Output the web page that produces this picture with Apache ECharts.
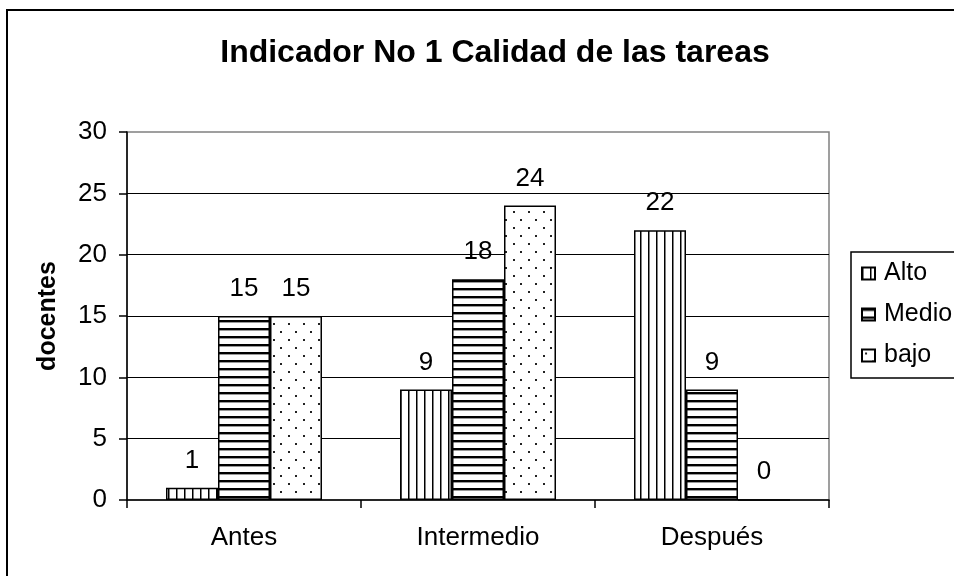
<!DOCTYPE html>
<html>
<head>
<meta charset="utf-8">
<script src="https://cdn.jsdelivr.net/npm/echarts@6/dist/echarts.min.js"></script>
<style>
html,body{margin:0;padding:0;background:#fff;}
#c{width:954px;height:576px;}
</style>
</head>
<body>
<div id="c"></div>
<script>
const categories = ['Antes', 'Intermedio', 'Después'];
const seriesNames = ['Alto', 'Medio', 'bajo'];
const alto = [1, 9, 22];
const medio = [15, 18, 9];
const bajo = [15, 24, 0];
const yTicks = [0, 5, 10, 15, 20, 25, 30];

const FONT = '"Liberation Sans", Arial, sans-serif';

function makePattern(kind) {
  const c = document.createElement('canvas');
  const ctx = c.getContext('2d');
  if (kind === 'v') {
    c.width = 8; c.height = 8;
    ctx.fillStyle = '#fff'; ctx.fillRect(0, 0, 8, 8);
    ctx.fillStyle = '#000'; ctx.fillRect(0, 0, 1.5, 8);
  } else if (kind === 'h') {
    c.width = 8; c.height = 8;
    ctx.fillStyle = '#fff'; ctx.fillRect(0, 0, 8, 8);
    ctx.fillStyle = '#000'; ctx.fillRect(0, 0, 8, 2);
    ctx.fillStyle = '#999'; ctx.fillRect(0, 2, 8, 1);
  } else {
    c.width = 15; c.height = 16;
    ctx.fillStyle = '#fff'; ctx.fillRect(0, 0, 15, 16);
    ctx.fillStyle = '#222';
    ctx.fillRect(3, 3, 2, 2);
    ctx.fillRect(10, 11, 2, 2);
  }
  return { image: c, repeat: 'repeat' };
}

const patterns = [makePattern('v'), makePattern('h'), makePattern('d')];
const dataSets = [alto, medio, bajo];

const chart = echarts.init(document.getElementById('c'), null, { renderer: 'canvas' });

const option = {
  backgroundColor: '#fff',
  animation: false,
  textStyle: { fontFamily: FONT },
  title: {
    text: 'Indicador No 1 Calidad de las tareas',
    left: 490,
    textAlign: 'center',
    top: 32,
    textStyle: { fontFamily: FONT, fontSize: 32, fontWeight: 'bold', color: '#000' }
  },
  graphic: [
    { type: 'rect', z: -10, shape: { x: 7, y: 10, width: 1000, height: 1000 },
      style: { fill: 'none', stroke: '#000', lineWidth: 2 } },
    { type: 'rect', z: 0, shape: { x: 851, y: 252, width: 200, height: 126 },
      style: { fill: '#fff', stroke: '#000', lineWidth: 1.5 } }
  ],
  legend: {
    orient: 'vertical',
    left: 856,
    top: 256,
    z: 10,
    data: seriesNames,
    itemWidth: 13,
    itemHeight: 12,
    itemGap: 16,
    icon: 'rect',
    textStyle: { fontFamily: FONT, fontSize: 25, color: '#000', padding: [0, 0, 0, 4] }
  },
  grid: {
    left: 127, right: 125, top: 132, bottom: 76,
    show: true, borderColor: '#808080', borderWidth: 1.5, backgroundColor: 'transparent'
  },
  xAxis: {
    type: 'category',
    data: categories,
    axisLine: { lineStyle: { color: '#000', width: 1.5 } },
    axisTick: { show: true, length: 8, lineStyle: { color: '#000', width: 1.5 } },
    axisLabel: { fontFamily: FONT, fontSize: 26, color: '#000', margin: 25 },
    splitLine: { show: false }
  },
  yAxis: {
    type: 'value',
    min: yTicks[0],
    max: yTicks[yTicks.length - 1],
    interval: yTicks[1] - yTicks[0],
    name: 'docentes',
    nameLocation: 'middle',
    nameRotate: 90,
    nameGap: 66,
    nameTextStyle: { fontFamily: FONT, fontSize: 25, fontWeight: 'bold', color: '#000' },
    axisLine: { show: true, lineStyle: { color: '#000', width: 1.5 } },
    axisTick: { show: true, length: 8, lineStyle: { color: '#000', width: 1.5 } },
    axisLabel: { fontFamily: FONT, fontSize: 26, color: '#000', margin: 20 },
    splitLine: { show: true, showMaxLine: false, showMinLine: false, lineStyle: { color: '#000', width: 1.2 } }
  },
  series: seriesNames.map((name, i) => ({
    name: name,
    type: 'bar',
    data: dataSets[i],
    barWidth: 52,
    barGap: '0%',
    itemStyle: { color: patterns[i], borderColor: '#000', borderWidth: 1.5 },
    label: {
      show: true, position: 'top', distance: 14,
      fontFamily: FONT, fontSize: 26, color: '#000'
    }
  }))
};

chart.setOption(option);
</script>
</body>
</html>
